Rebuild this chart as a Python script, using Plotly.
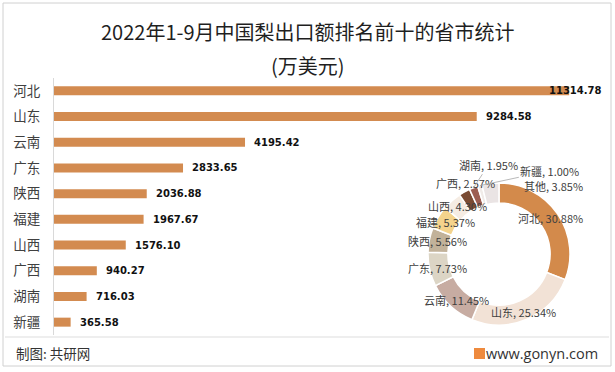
import math
import plotly.graph_objects as go

# ---------------- data ----------------
provinces = ["河北", "山东", "云南", "广东", "陕西", "福建", "山西", "广西", "湖南", "新疆"]
export_values = [11314.78, 9284.58, 4195.42, 2833.65, 2036.88, 1967.67, 1576.10, 940.27, 716.03, 365.58]

share_labels = ["河北", "山东", "云南", "广东", "陕西", "福建", "山西", "广西", "湖南", "新疆", "其他"]
share_values = [30.88, 25.34, 11.45, 7.73, 5.56, 5.37, 4.30, 2.57, 1.95, 1.00, 3.85]

title_line1 = "2022年1-9月中国梨出口额排名前十的省市统计"
title_line2 = "(万美元)"
footer_left = "制图: 共研网"
footer_right = "www.gonyn.com"

# ---------------- styles ----------------
W, H = 615, 372
CJK = "Microsoft YaHei, Noto Sans CJK SC, sans-serif"
BAR_COLOR = "#D38B50"
share_colors = ["#D38A4B", "#F2E2D6", "#C7ACA2", "#DCD5C5", "#C2B29A", "#F4D38C",
                "#F5ECE3", "#7A4B33", "#9C5E52", "#F0EBE8", "#EAE4E4"]

# bar plot area (pixels)
PX_LEFT, PX_RIGHT = 54, 605
PY_TOP, PY_BOTTOM = 78, 335
X_MAX = (PX_RIGHT - PX_LEFT) / 0.04553

# donut geometry (pixels)
CX, CY, R = 499, 254, 71
HOLE = 0.72
LABEL_R = 63
# label nudges for crowded small slices (pixels: dx, dy)
label_nudge = {"广西": (-3, -16), "其他": (62, -5), "山西": (0, -1), "福建": (0, 1)}
leader_offsets = {"湖南": (15, -23), "新疆": (70, -15)}


def px(x):
    return x / W


def py(y):
    return 1 - y / H


fig = go.Figure()

fig.add_trace(go.Bar(
    x=export_values, y=provinces, orientation="h",
    marker=dict(color=BAR_COLOR, line=dict(width=0)),
    width=0.35, hoverinfo="x+y", showlegend=False,
))

fig.add_trace(go.Pie(
    labels=share_labels, values=share_values, hole=HOLE, sort=False,
    direction="clockwise", rotation=0,
    marker=dict(colors=share_colors, line=dict(color="white", width=1.5)),
    textinfo="none", showlegend=False,
    domain=dict(x=[px(CX - R), px(CX + R)], y=[py(CY + R), py(CY - R)]),
))

annotations = []
# bar value labels
plot_w = PX_RIGHT - PX_LEFT
VAL_FONT = dict(family="DejaVu Sans", size=10, color="#111111")
for cat, v in zip(provinces, export_values):
    end_px = v / X_MAX * plot_w
    if end_px + 62 > plot_w:
        annotations.append(dict(x=X_MAX, y=cat, xref="x", yref="y", text=f"<b>{v:.2f}</b>",
                                showarrow=False, xanchor="right", xshift=-1, font=VAL_FONT))
    else:
        annotations.append(dict(x=v, y=cat, xref="x", yref="y", text=f"<b>{v:.2f}</b>",
                                showarrow=False, xanchor="left", xshift=7, font=VAL_FONT))

# donut labels
total = sum(share_values)
cum = 0.0
for lab, v in zip(share_labels, share_values):
    mid = (cum + v / 2) / total * 2 * math.pi
    cum += v
    text = f"{lab}, {v:.2f}%"
    font = dict(family=CJK, size=11, color="#404040")
    if lab in leader_offsets:
        hx = CX + R * math.sin(mid)
        hy = CY - R * math.cos(mid)
        dx, dy = leader_offsets[lab]
        annotations.append(dict(x=px(hx), y=py(hy), xref="paper", yref="paper", text=text,
                                showarrow=True, arrowhead=0, arrowwidth=0.8, arrowcolor="#A6A6A6",
                                ax=dx, ay=dy, font=font, standoff=0))
    else:
        lx = CX + LABEL_R * math.sin(mid)
        ly = CY - LABEL_R * math.cos(mid)
        dx, dy = label_nudge.get(lab, (0, 0))
        annotations.append(dict(x=px(lx + dx), y=py(ly + dy), xref="paper", yref="paper", text=text,
                                showarrow=False, xanchor="center", yanchor="middle", font=font))

# titles and footer
annotations += [
    dict(x=0.5, y=py(31), xref="paper", yref="paper", text=title_line1, showarrow=False,
         xanchor="center", yanchor="middle", font=dict(family=CJK, size=20, color="#1F1F1F")),
    dict(x=0.5, y=py(65), xref="paper", yref="paper", text=title_line2, showarrow=False,
         xanchor="center", yanchor="middle", font=dict(family=CJK, size=20, color="#1F1F1F")),
    dict(x=px(14), y=py(353), xref="paper", yref="paper", text=footer_left, showarrow=False,
         xanchor="left", yanchor="middle", font=dict(family=CJK, size=13.5, color="#333333")),
    dict(x=px(600), y=py(353), xref="paper", yref="paper", text=footer_right, showarrow=False,
         xanchor="right", yanchor="middle", font=dict(family="Open Sans, sans-serif", size=14.5, color="#333333")),
]

shapes = [
    dict(type="rect", xref="paper", yref="paper", x0=px(3), x1=px(611), y0=py(366), y1=py(3),
         line=dict(color="#D0D0D0", width=1), fillcolor="rgba(0,0,0,0)", layer="below"),
    dict(type="line", xref="paper", yref="paper", x0=px(5), x1=px(609), y0=py(337), y1=py(337),
         line=dict(color="#DDDDDD", width=1)),
    dict(type="rect", xref="paper", yref="paper", x0=px(474), x1=px(485), y0=py(359), y1=py(348),
         line=dict(width=0), fillcolor="#EE8A3E"),
]

fig.update_layout(
    width=W, height=H,
    margin=dict(l=0, r=0, t=0, b=0),
    paper_bgcolor="white", plot_bgcolor="rgba(0,0,0,0)",
    bargap=0.65,
    xaxis=dict(domain=[px(PX_LEFT), px(PX_RIGHT)], range=[0, X_MAX], showgrid=False,
               zeroline=False, showticklabels=False, showline=False, fixedrange=True),
    yaxis=dict(domain=[py(PY_BOTTOM), py(PY_TOP)], autorange="reversed", showgrid=False,
               showline=True, linecolor="#D9D9D9", linewidth=1, ticks="",
               ticklabelstandoff=10,
               tickfont=dict(family=CJK, size=13.5, color="#404040")),
    annotations=annotations,
    shapes=shapes,
    font=dict(family=CJK),
)

fig.write_html("out.html", config={"displayModeBar": False},
               post_script="document.body.style.margin='0';document.body.style.overflow='hidden';")
